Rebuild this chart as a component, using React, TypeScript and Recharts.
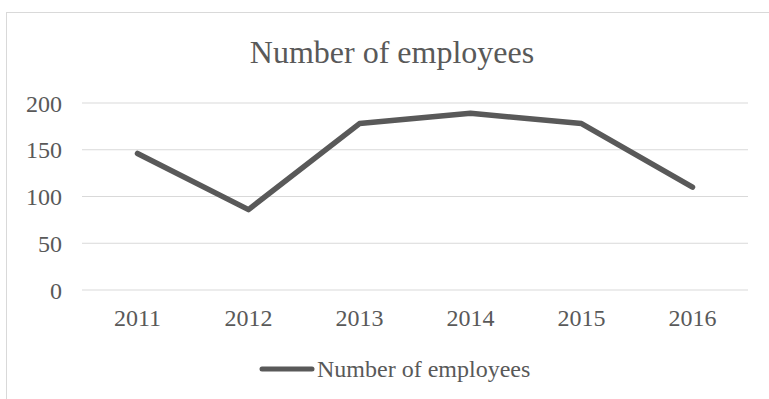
import React from "react";
import { LineChart, Line, XAxis, YAxis, CartesianGrid, Legend } from "recharts";

const years = ["2011", "2012", "2013", "2014", "2015", "2016"];
const employees = [146, 86, 178, 189, 178, 110];
const yTicks = [0, 50, 100, 150, 200];
const seriesName = "Number of employees";
const chartTitle = "Number of employees";

const data = years.map((year, i) => ({ year, employees: employees[i] }));

const ink = "#595959";
const font = "'Liberation Serif', 'Times New Roman', serif";

const LegendContent = () => (
  <div style={{ display: "flex", alignItems: "center", height: 24 }}>
    <svg width={56} height={24}>
      <line x1={3} y1={12} x2={53} y2={12} stroke={ink} strokeWidth={5} strokeLinecap="round" />
    </svg>
    <span style={{ fontFamily: font, fontSize: 24, lineHeight: "24px", color: ink, marginLeft: 2 }}>
      {seriesName}
    </span>
  </div>
);

export default function App() {
  return (
    <div style={{ position: "absolute", left: 0, top: 0, width: 769, height: 399, overflow: "hidden", background: "#fff" }}>
      <div
        style={{
          position: "absolute",
          left: 6,
          top: 12,
          width: 820,
          height: 440,
          border: "1px solid #d9d9d9",
        }}
      />
      <div
        style={{
          position: "absolute",
          left: 0,
          top: 36,
          width: 784,
          textAlign: "center",
          fontFamily: font,
          fontSize: 32,
          lineHeight: "32px",
          color: ink,
        }}
      >
        {chartTitle}
      </div>
      <div style={{ position: "absolute", left: 0, top: 0 }}>
        <LineChart width={769} height={399} data={data} margin={{ top: 103, right: 21, bottom: 55, left: 22 }}>
          <CartesianGrid vertical={false} stroke="#d9d9d9" strokeWidth={1.2} />
          <XAxis
            dataKey="year"
            axisLine={false}
            tickLine={false}
            tickMargin={13}
            padding={{ left: 55.5, right: 55.5 }}
            tick={{ fill: ink, fontSize: 24, fontFamily: font }}
            interval={0}
            height={30}
          />
          <YAxis
            domain={[0, 200]}
            ticks={yTicks}
            axisLine={false}
            tickLine={false}
            tickMargin={14}
            width={60}
            tick={{ fill: ink, fontSize: 24, fontFamily: font }}
          />
          <Legend
            content={<LegendContent />}
            wrapperStyle={{ position: "absolute", left: 259, top: 357, width: "auto", height: 24 }}
          />
          <Line
            type="linear"
            dataKey="employees"
            name={seriesName}
            stroke={ink}
            strokeWidth={5.5}
            strokeLinecap="round"
            strokeLinejoin="round"
            dot={false}
            activeDot={false}
            isAnimationActive={false}
          />
        </LineChart>
      </div>
    </div>
  );
}
